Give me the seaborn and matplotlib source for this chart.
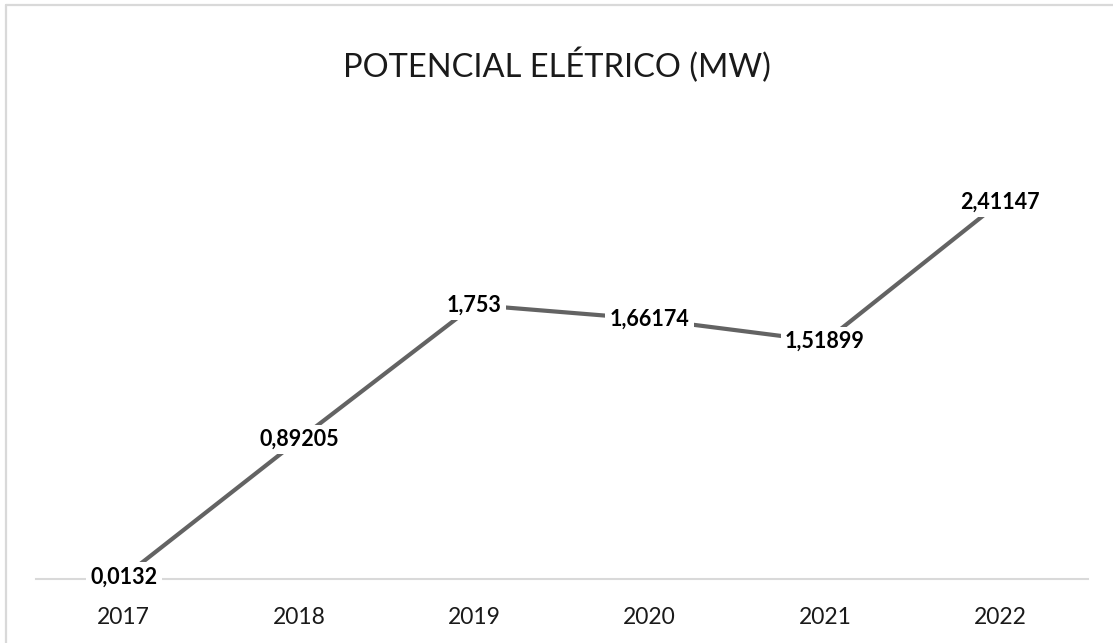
import matplotlib
matplotlib.use("Agg")
import matplotlib.pyplot as plt
import seaborn as sns
import pandas as pd
from matplotlib.lines import Line2D

# Annual electrical potential (MW)
years = ["2017", "2018", "2019", "2020", "2021", "2022"]
potencial_mw = [0.0132, 0.89205, 1.753, 1.66174, 1.51899, 2.41147]
value_labels = ["0,0132", "0,89205", "1,753", "1,66174", "1,51899", "2,41147"]

sns.set_theme(style="white")
plt.rcParams["font.family"] = ["Lato", "DejaVu Sans"]

df = pd.DataFrame({"ano": years, "mw": potencial_mw})

W, H = 1113, 643
fig = plt.figure(figsize=(W / 100, H / 100), dpi=100)
ax = fig.add_axes([36 / W, 1 - 579 / H, 1052 / W, 469 / H])

sns.lineplot(data=df, x="ano", y="mw", ax=ax, color="#636363",
             linewidth=3.0, sort=False, zorder=3)

for i, (v, lab) in enumerate(zip(potencial_mw, value_labels)):
    ax.text(i, v, lab, ha="center", va="center", fontsize=15.5,
            fontweight="bold", color="black", zorder=5,
            bbox=dict(boxstyle="square,pad=0.2", facecolor="white",
                      edgecolor="none"))

ax.set_xlim(-0.5, len(years) - 0.5)
ax.set_ylim(0, 3)
ax.set_xlabel("")
ax.set_ylabel("")
ax.set_yticks([])
ax.set_xticks(range(len(years)))
ax.set_xticklabels(years, fontsize=16.5, color="#1a1a1a")
ax.tick_params(axis="x", length=0, pad=20)
for s in ["top", "right", "left"]:
    ax.spines[s].set_visible(False)
ax.spines["bottom"].set_color("#d9d9d9")
ax.spines["bottom"].set_linewidth(1.5)
ax.set_facecolor("none")

fig.text(0.5, 1 - 65 / H, "POTENCIAL ELÉTRICO (MW)", ha="center",
         va="center", fontsize=23.5, color="#1a1a1a")

# chart frame along the left and top edges
frame = dict(transform=fig.transFigure, color="#d9d9d9", linewidth=1.6)
fig.add_artist(Line2D([6 / W, 6 / W], [0, 1 - 5 / H], **frame))
fig.add_artist(Line2D([6 / W, 1], [1 - 5 / H, 1 - 5 / H], **frame))

fig.savefig("out.png", dpi=100)
